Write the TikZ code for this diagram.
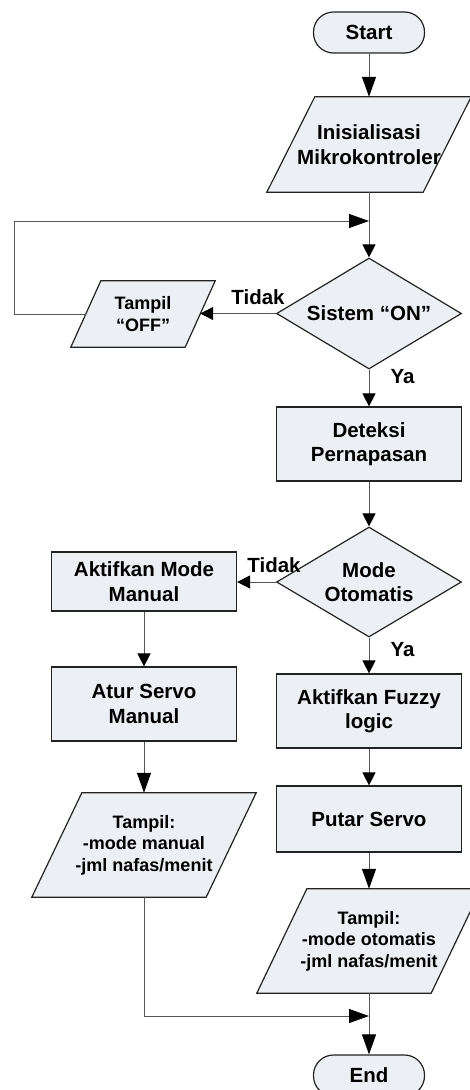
\documentclass[tikz,border=0pt]{standalone}
\usepackage{fontspec}
\setmainfont{Liberation Sans}
\usetikzlibrary{shapes.geometric,arrows.meta,backgrounds}

\definecolor{boxfill}{RGB}{236,239,244}
\definecolor{boxline}{RGB}{35,35,35}
\definecolor{wirecol}{RGB}{85,85,85}

\tikzset{
    every node/.style={font=\bfseries\fontsize{20.5}{24.5}\selectfont, align=center},
    shapeline/.style={draw=boxline, fill=boxfill, line width=1.2pt},
    terminal/.style={shapeline, rounded corners=20pt, minimum width=111pt, minimum height=41pt, inner sep=0pt},
    process/.style={shapeline, minimum width=185pt, inner sep=0pt},
    decision/.style={shapeline, diamond, aspect=1.67, minimum width=185pt, minimum height=111pt, inner sep=0pt},
    iobox/.style={inner sep=0pt},
    small/.style={font=\bfseries\fontsize{18}{21.5}\selectfont},
    wire/.style={draw=wirecol, line width=1pt},
    flow/.style={wire, -{Triangle[length=13pt,width=13pt,color=black]}},
    longflow/.style={wire, -{Triangle[length=20pt,width=14pt,color=black]}},
    lbl/.style={inner sep=0pt},
}

\begin{document}
\begin{tikzpicture}[x=1pt, y=-1pt]
        % Frame
        \useasboundingbox (0,0) rectangle (469,1090);

        % Coordinates
        \coordinate (loopjoin) at (369,221);
        \coordinate (loopcorner) at (14,221);
        \coordinate (merge) at (369,1016);

        % Nodes
        \node[terminal] (start) at (369,32.5) {Start};
        \node[iobox, minimum width=156pt, minimum height=95pt] (init) at (369,144.5) {Inisialisasi\\Mikrokontroler};
        \node[decision] (on) at (369,313.5) {Sistem “ON”};
        \node[iobox, small, minimum width=114pt, minimum height=66pt] (off) at (143,314) {Tampil\\“OFF”};
        \node[process, minimum height=74pt] (detect) at (369,444) {Deteksi\\Pernapasan};
        \node[decision, minimum height=110pt] (mode) at (369,582) {Mode\\Otomatis};
        \node[process, minimum height=59pt] (manual) at (144,581.5) {Aktifkan Mode\\Manual};
        \node[process, minimum height=74pt] (servo) at (144,704) {Atur Servo\\Manual};
        \node[iobox, small, minimum width=174pt, minimum height=104pt] (showman) at (144,845) {Tampil:\\-mode manual\\-jml nafas/menit};
        \node[process, minimum height=74pt] (fuzzy) at (369,711) {Aktifkan Fuzzy\\logic};
        \node[process, minimum height=66pt] (putar) at (369,819) {Putar Servo};
        \node[iobox, small, minimum width=174pt, minimum height=104pt] (showauto) at (369,941) {Tampil:\\-mode otomatis\\-jml nafas/menit};
        \node[terminal] (end) at (369,1075.5) {End};

        % Parallelograms behind the text
        \begin{scope}[on background layer]
            \draw[shapeline] ([xshift=24pt]init.north west) -- ([xshift=24pt]init.north east)
                -- ([xshift=-24pt]init.south east) -- ([xshift=-24pt]init.south west) -- cycle;
            \draw[shapeline] ([xshift=15pt]off.north west) -- ([xshift=15pt]off.north east)
                -- ([xshift=-15pt]off.south east) -- ([xshift=-15pt]off.south west) -- cycle;
            \draw[shapeline] ([xshift=25pt]showman.north west) -- ([xshift=25pt]showman.north east)
                -- ([xshift=-25pt]showman.south east) -- ([xshift=-25pt]showman.south west) -- cycle;
            \draw[shapeline] ([xshift=25pt]showauto.north west) -- ([xshift=25pt]showauto.north east)
                -- ([xshift=-25pt]showauto.south east) -- ([xshift=-25pt]showauto.south west) -- cycle;
        \end{scope}

        % Labels
        \node[lbl] (no1) at (258,297) {Tidak};
        \node[lbl] (yes1) at (402.5,377) {Ya};
        \node[lbl] (no2) at (274,565) {Tidak};
        \node[lbl] (yes2) at (402.5,650) {Ya};

        % Drawing
        \draw[longflow] (start) -- (init);
        \draw[wire] (init) -- (loopjoin);
        \draw[longflow] (off.west) -| (loopcorner) -- (loopjoin);
        \draw[flow] (loopjoin) -- (on);
        \draw[flow] (on.west) -- (on.west -| off.east);
        \draw[flow] (on) -- (detect);
        \draw[flow] (detect) -- (mode);
        \draw[flow] (mode.west) -- (mode.west -| manual.east);
        \draw[flow] (manual) -- (servo);
        \draw[longflow] (servo) -- (showman);
        \draw[flow] (mode) -- (fuzzy);
        \draw[flow] (fuzzy) -- (putar);
        \draw[longflow] (putar) -- (showauto);
        \draw[longflow] (showman.south) |- (merge);
        \draw[longflow] (showauto) -- (end);
    \end{tikzpicture}
\end{document}
